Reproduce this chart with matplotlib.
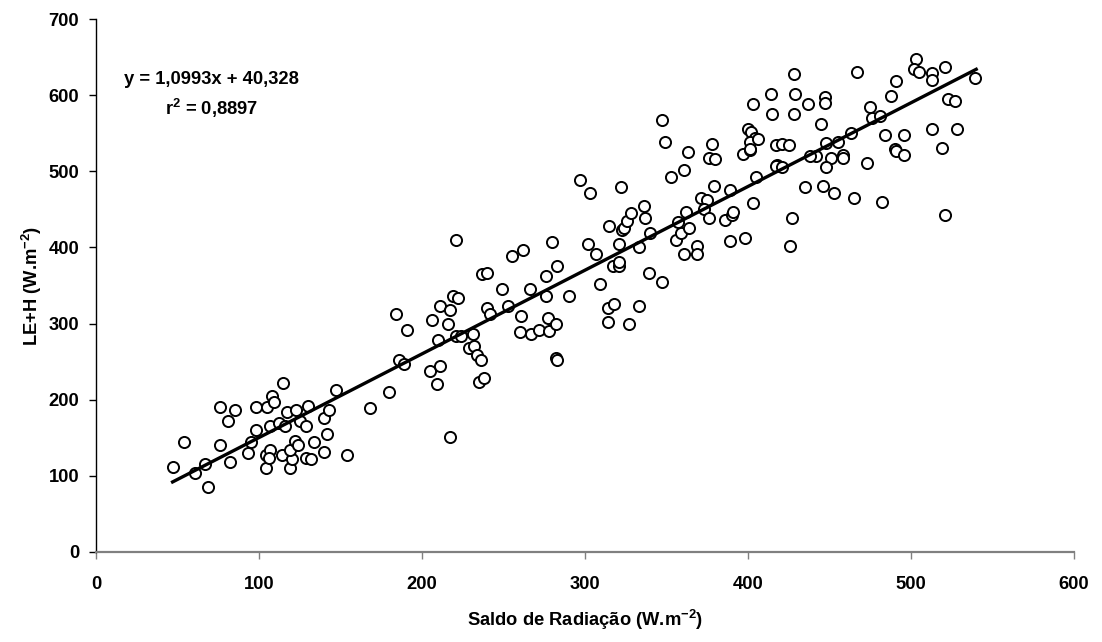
import matplotlib
matplotlib.use("Agg")
import matplotlib.pyplot as plt
import numpy as np

plt.rcParams['font.family'] = ['Liberation Sans', 'DejaVu Sans']
plt.rcParams['mathtext.fontset'] = 'custom'
plt.rcParams['mathtext.bf'] = 'Liberation Sans:bold'
plt.rcParams['mathtext.rm'] = 'Liberation Sans'

# Observed data (Saldo de Radiação, LE+H), W.m-2
saldo = [
    47, 54, 61, 67, 69, 76, 76, 81, 85, 82, 93, 95, 98, 98, 104, 104, 105, 108, 109, 107,
    107, 106, 112, 115, 117, 116, 114, 119, 120, 119, 123, 122, 124, 125, 129, 129, 132, 130,
    134, 140, 140, 142, 143, 147, 154, 168,
    180, 186, 189, 184, 191, 205, 211, 209, 206, 210, 211, 217, 216, 219, 222, 221, 221, 224,
    231, 229, 232, 234, 236, 235, 238, 237, 240, 240, 242, 249, 253, 255, 262, 261, 260, 267,
    272, 278, 277, 282, 266, 276, 276, 283, 280, 282, 283, 290, 217,
    309, 314, 318, 314, 327, 333, 339, 347, 297, 303, 322, 315, 302, 307, 317, 321, 321, 321,
    323, 324, 326, 328, 336, 337, 340, 333, 353, 361, 363, 357, 356, 359, 364, 362, 361, 369,
    369, 371, 375, 373, 376, 376, 380, 379, 389, 386, 390, 391, 389, 398, 403, 397, 401, 405, 418,
    347, 349, 378, 403, 400, 402, 404, 401, 401,
    539, 521, 503, 502, 505, 513, 513, 523, 527, 528, 513, 519, 521, 491, 488, 467, 475, 476,
    481, 484, 496, 490, 491, 496, 473, 482, 465, 463, 458, 458, 455, 448, 451, 448, 445, 447,
    447, 446, 453, 435, 437, 442, 438, 428, 429, 428, 414, 415, 417, 421, 425, 417, 421, 406,
    427, 426,
]
le_h = [
    112, 144, 104, 115, 86, 191, 141, 172, 187, 118, 130, 145, 191, 160, 127, 110, 191, 205, 197, 166,
    134, 123, 169, 222, 184, 165, 128, 110, 122, 134, 187, 146, 141, 172, 166, 124, 122, 192,
    145, 176, 131, 155, 187, 213, 128, 189,
    210, 252, 247, 312, 292, 238, 244, 221, 305, 278, 323, 318, 299, 336, 333, 410, 284, 284,
    286, 268, 271, 259, 252, 223, 229, 365, 367, 320, 313, 346, 323, 389, 397, 310, 289, 286,
    292, 290, 307, 299, 346, 363, 336, 376, 407, 255, 252, 336, 151,
    352, 321, 326, 302, 300, 323, 367, 354, 489, 472, 479, 428, 404, 391, 376, 376, 381, 404,
    423, 425, 435, 445, 455, 439, 419, 400, 492, 502, 525, 434, 410, 419, 426, 447, 391, 402,
    391, 465, 462, 450, 439, 518, 516, 481, 476, 436, 442, 447, 408, 413, 458, 523, 528, 492, 508,
    568, 539, 536, 589, 555, 552, 544, 539, 529,
    623, 637, 647, 634, 631, 629, 620, 595, 592, 555, 555, 531, 442, 619, 599, 631, 584, 570,
    573, 547, 547, 529, 527, 521, 511, 460, 465, 550, 521, 518, 539, 537, 518, 505, 562, 598,
    590, 481, 472, 479, 589, 520, 520, 628, 602, 575, 602, 575, 534, 536, 534, 507, 505, 543,
    438, 402,
]

# Linear fit reported on the chart
slope = 1.0993
intercept = 40.328
r2 = 0.8897
fit_range = [47, 540]

x_ticks = [0, 100, 200, 300, 400, 500, 600]
y_ticks = [0, 100, 200, 300, 400, 500, 600, 700]

FS = 13.2

fig = plt.figure(figsize=(11.02, 6.42), dpi=100)
ax = fig.add_axes([0.0871, 0.1402, 0.8875, 0.8302])

ax.plot(saldo, le_h, linestyle='none', marker='o', markersize=8.0,
        markerfacecolor='white', markeredgecolor='black', markeredgewidth=1.4, zorder=3)

fx = np.array(fit_range, dtype=float)
ax.plot(fx, slope * fx + intercept, color='black', linewidth=2.4, zorder=4)

ax.set_xlim(0, 600)
ax.set_ylim(0, 700)
ax.set_xticks(x_ticks)
ax.set_yticks(y_ticks)

for s in ['top', 'right']:
    ax.spines[s].set_visible(False)
ax.spines['left'].set_color('black')
ax.spines['left'].set_linewidth(1.0)
ax.spines['bottom'].set_color('#808080')
ax.spines['bottom'].set_linewidth(1.6)

ax.tick_params(axis='y', direction='out', length=5, width=1.0, color='black', pad=7)
ax.tick_params(axis='x', direction='out', length=5, width=1.0, color='#808080', pad=12)
for lab in ax.get_xticklabels() + ax.get_yticklabels():
    lab.set_fontweight('bold')
    lab.set_fontsize(FS)

ax.set_xlabel('Saldo de Radiação (W.m$^{\\mathbf{-2}}$)', fontsize=FS, fontweight='bold', labelpad=11)
ax.set_ylabel('LE+H (W.m$^{\\mathbf{-2}}$)', fontsize=FS, fontweight='bold', labelpad=3)

ax.text(0.1186, 0.8856, 'y = 1,0993x + 40,328', transform=ax.transAxes,
        ha='center', va='center', fontsize=FS, fontweight='bold')
ax.text(0.1186, 0.833, 'r$^{\\mathbf{2}}$ = 0,8897', transform=ax.transAxes,
        ha='center', va='center', fontsize=FS, fontweight='bold')

fig.savefig('out.png', dpi=100)
